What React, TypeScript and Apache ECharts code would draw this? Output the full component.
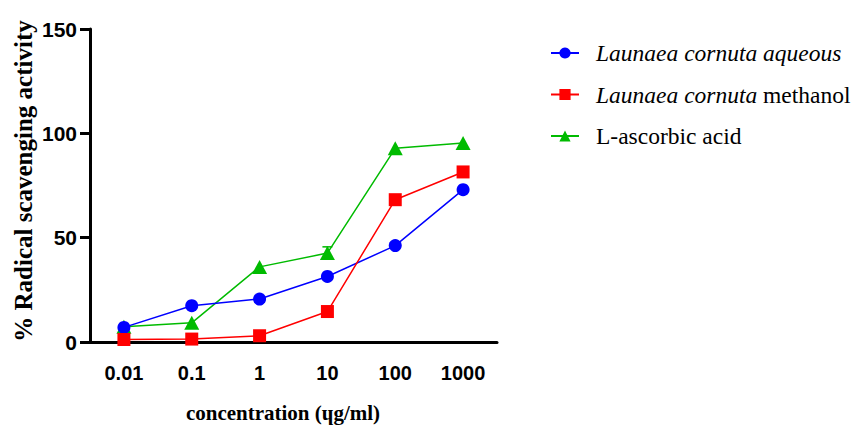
import React, { useEffect, useRef } from "react";
import * as echarts from "echarts";

const categories = ["0.01", "0.1", "1", "10", "100", "1000"];
const aqueous = [7.0, 17.4, 20.6, 31.4, 46.2, 73.0];
const methanol = [1.2, 1.4, 3.0, 14.6, 68.2, 81.5];
const ascorbic = [7.3, 9.2, 36.0, 42.6, 92.8, 95.4];
const ascorbicErr = [0, 0, 0, 3.0, 0, 0];
const yTicks = [0, 50, 100, 150];

const seriesNames = [
  "Launaea cornuta aqueous",
  "Launaea cornuta methanol",
  "L-ascorbic acid",
];

const App: React.FC = () => {
  const ref = useRef<HTMLDivElement>(null);
  useEffect(() => {
    document.body.style.margin = "0";
    if (!ref.current) return;
    const chart = echarts.init(ref.current, undefined, { renderer: "svg" });
    const tickFont = "'Liberation Sans', Arial, sans-serif";
    const serif = "'Liberation Serif', 'Times New Roman', serif";
    chart.setOption({
      animation: false,
      backgroundColor: "#ffffff",
      grid: { left: 90, right: 354, top: 29, bottom: 83, containLabel: false },
      xAxis: {
        type: "category",
        data: categories,
        boundaryGap: true,
        axisLine: { lineStyle: { color: "#000", width: 3 } },
        axisTick: { alignWithLabel: true, length: 11, lineStyle: { color: "#000", width: 3 } },
        axisLabel: {
          margin: 21,
          color: "#000",
          fontFamily: tickFont,
          fontWeight: "bold",
          fontSize: 20,
        },
        splitLine: { show: false },
      },
      yAxis: {
        type: "value",
        min: yTicks[0],
        max: yTicks[yTicks.length - 1],
        interval: 50,
        axisLine: { show: true, lineStyle: { color: "#000", width: 3 } },
        axisTick: { show: true, length: 10, lineStyle: { color: "#000", width: 3 } },
        axisLabel: {
          margin: 13,
          color: "#000",
          fontFamily: tickFont,
          fontWeight: "bold",
          fontSize: 21,
        },
        splitLine: { show: false },
      },
      legend: {
        orient: "vertical",
        left: 550,
        top: 41,
        padding: 0,
        itemWidth: 28,
        itemHeight: 14,
        itemGap: 17.5,
        data: seriesNames,
        textStyle: {
          fontFamily: serif,
          fontSize: 23.5,
          color: "#000",
          lineHeight: 24,
          padding: [0, 0, 0, 12],
          rich: {
            i: { fontFamily: serif, fontSize: 23.5, fontStyle: "italic", color: "#000", lineHeight: 24 },
            n: { fontFamily: serif, fontSize: 23.5, color: "#000", lineHeight: 24 },
          },
        },
        formatter: (name: string) => {
          if (name === seriesNames[0]) return "{i|Launaea cornuta aqueous}";
          if (name === seriesNames[1]) return "{i|Launaea cornuta}{n| methanol}";
          return "{n|" + name + "}";
        },
      },
      graphic: [
        {
          type: "text",
          x: 23,
          y: 181,
          rotation: Math.PI / 2,
          style: {
            text: "% Radical scavenging activity",
            fontFamily: serif,
            fontWeight: "bold",
            fontSize: 25,
            fill: "#000",
            align: "center",
            verticalAlign: "middle",
          },
        },
        {
          type: "text",
          x: 283,
          y: 413,
          style: {
            text: "concentration (ɥg/ml)",
            fontFamily: serif,
            fontWeight: "bold",
            fontSize: 21,
            fill: "#000",
            align: "center",
            verticalAlign: "middle",
          },
        },
      ],
      series: [
        {
          name: seriesNames[0],
          type: "line",
          data: aqueous,
          symbol: "circle",
          symbolSize: 13,
          itemStyle: { color: "#0000ff" },
          lineStyle: { color: "#0000ff", width: 1.5 },
          z: 3,
        },
        {
          name: seriesNames[1],
          type: "line",
          data: methanol,
          symbol: "rect",
          symbolSize: 13,
          itemStyle: { color: "#ff0000" },
          lineStyle: { color: "#ff0000", width: 1.5 },
          z: 4,
        },
        {
          name: seriesNames[2],
          type: "line",
          data: ascorbic,
          symbol: "triangle",
          symbolSize: [15, 14],
          itemStyle: { color: "#00bb00" },
          lineStyle: { color: "#00bb00", width: 1.5 },
          z: 2,
        },
        {
          type: "custom",
          name: "err",
          data: ascorbic.map((v, i) => [i, v, ascorbicErr[i]]),
          z: 2,
          renderItem: (params: any, api: any) => {
            const i = api.value(0);
            const v = api.value(1);
            const e = api.value(2);
            if (!e) return null;
            const p0 = api.coord([i, v]);
            const p1 = api.coord([i, v + e]);
            const style = { stroke: "#00bb00", lineWidth: 1.5 };
            return {
              type: "group",
              children: [
                { type: "line", shape: { x1: p0[0], y1: p0[1], x2: p1[0], y2: p1[1] }, style },
                { type: "line", shape: { x1: p1[0] - 5, y1: p1[1], x2: p1[0] + 5, y2: p1[1] }, style },
              ],
            };
          },
        },
      ],
    });
    return () => chart.dispose();
  }, []);
  return <div ref={ref} style={{ width: 851, height: 425 }} />;
};

export default App;
